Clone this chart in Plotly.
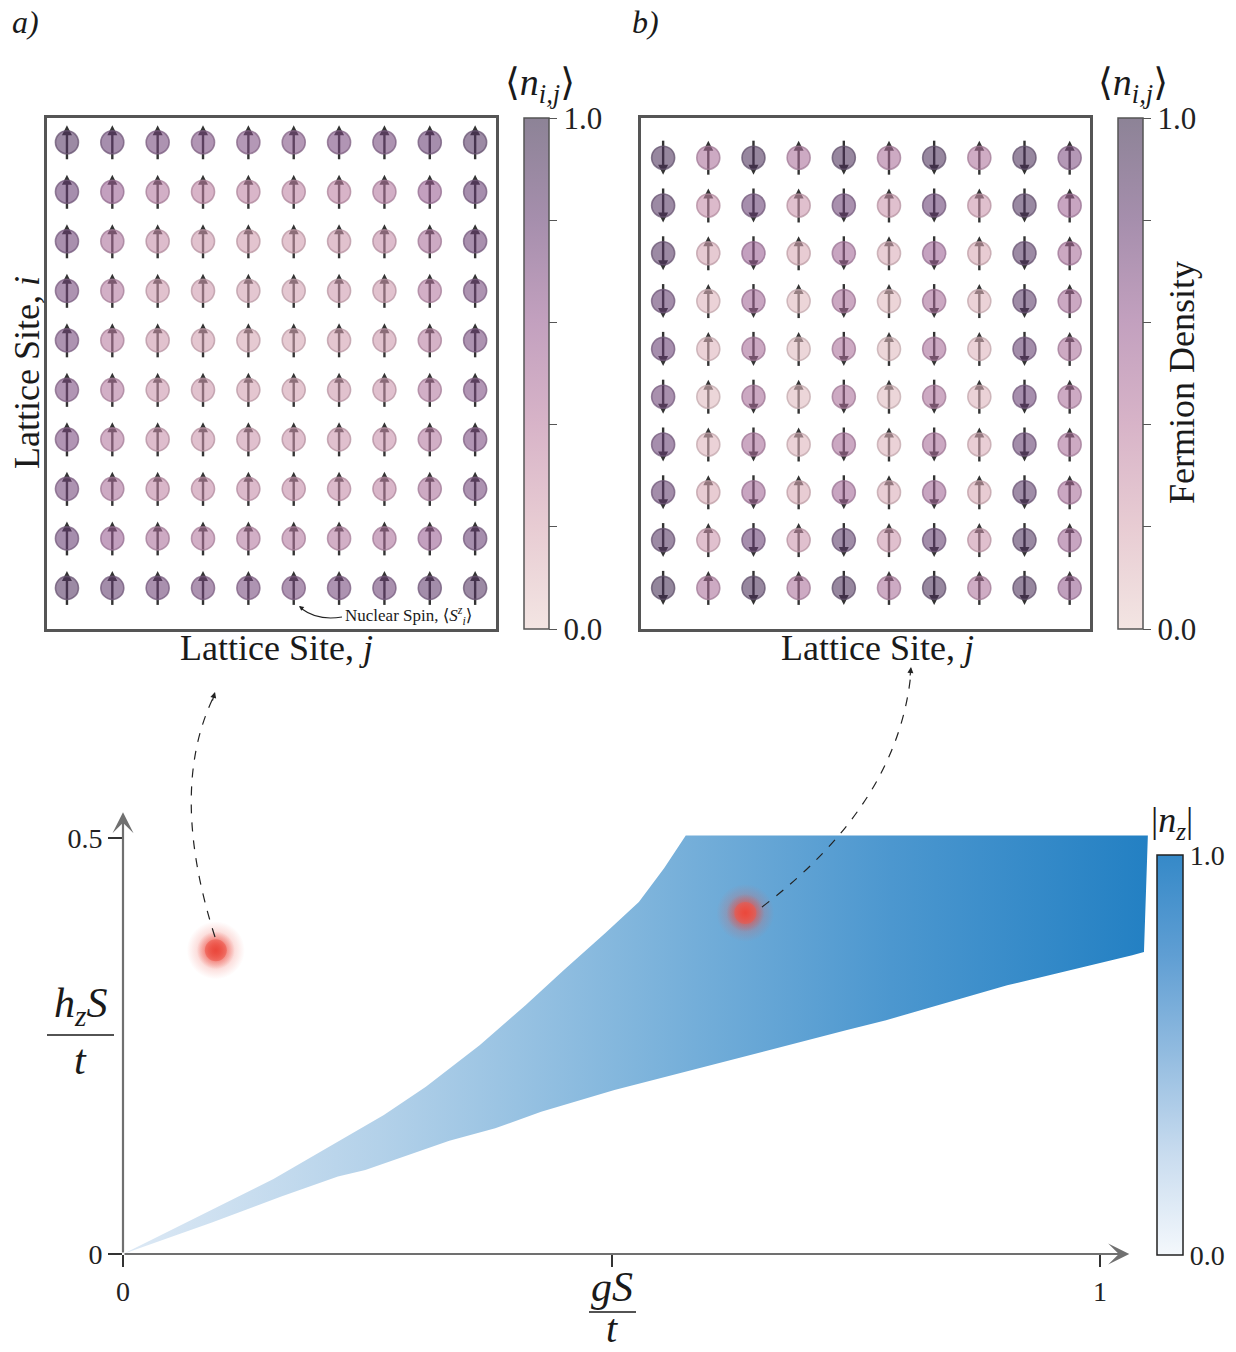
import plotly.graph_objects as go

W, H = 1236, 1352
FONT = "Liberation Serif, DejaVu Serif, serif"

# ---------------- data ----------------
lattice_j = list(range(10))

# panel a) fermion density <n_ij>, rows listed top -> bottom
density_a = [
    [0.88, 0.80, 0.75, 0.72, 0.70, 0.70, 0.72, 0.75, 0.80, 0.88],
    [0.80, 0.60, 0.45, 0.40, 0.38, 0.38, 0.40, 0.45, 0.60, 0.80],
    [0.78, 0.50, 0.33, 0.28, 0.26, 0.26, 0.28, 0.33, 0.50, 0.78],
    [0.75, 0.45, 0.28, 0.27, 0.24, 0.24, 0.27, 0.28, 0.45, 0.75],
    [0.75, 0.42, 0.28, 0.25, 0.22, 0.22, 0.25, 0.28, 0.42, 0.75],
    [0.72, 0.45, 0.30, 0.28, 0.25, 0.25, 0.28, 0.30, 0.45, 0.72],
    [0.72, 0.45, 0.32, 0.30, 0.30, 0.30, 0.30, 0.32, 0.45, 0.72],
    [0.75, 0.50, 0.38, 0.35, 0.35, 0.35, 0.35, 0.38, 0.50, 0.75],
    [0.80, 0.60, 0.50, 0.45, 0.45, 0.45, 0.45, 0.50, 0.60, 0.80],
    [0.88, 0.82, 0.78, 0.75, 0.74, 0.74, 0.75, 0.78, 0.82, 0.88],
]
spin_a_row = [1, 1, 1, 1, 1, 1, 1, 1, 1, 1]
spin_a = [spin_a_row] * 10

# panel b)
density_b = [
    [0.92, 0.50, 0.92, 0.50, 0.92, 0.50, 0.92, 0.48, 0.92, 0.70],
    [0.88, 0.35, 0.80, 0.30, 0.78, 0.30, 0.80, 0.30, 0.90, 0.55],
    [0.88, 0.22, 0.60, 0.20, 0.55, 0.18, 0.58, 0.20, 0.88, 0.52],
    [0.82, 0.15, 0.55, 0.13, 0.52, 0.13, 0.52, 0.15, 0.85, 0.52],
    [0.80, 0.15, 0.52, 0.12, 0.50, 0.12, 0.52, 0.15, 0.82, 0.50],
    [0.78, 0.12, 0.52, 0.12, 0.50, 0.12, 0.50, 0.15, 0.80, 0.50],
    [0.80, 0.15, 0.52, 0.15, 0.52, 0.15, 0.52, 0.18, 0.82, 0.50],
    [0.82, 0.20, 0.55, 0.20, 0.55, 0.18, 0.55, 0.20, 0.85, 0.52],
    [0.88, 0.30, 0.80, 0.30, 0.85, 0.30, 0.82, 0.30, 0.90, 0.55],
    [0.95, 0.50, 0.92, 0.50, 0.92, 0.50, 0.92, 0.48, 0.92, 0.62],
]
spin_b_row = [-1, 1, -1, 1, -1, 1, -1, 1, -1, 1]
spin_b = [spin_b_row] * 10

# phase diagram boundary (gS/t, h_z S/t)
upper_x = [0.0, 0.115, 0.154, 0.267, 0.310, 0.365, 0.412, 0.451, 0.494, 0.528, 0.554, 0.576, 1.049]
upper_y = [0.0, 0.067, 0.090, 0.167, 0.201, 0.251, 0.299, 0.341, 0.386, 0.423, 0.464, 0.503, 0.503]
lower_x = [1.045, 1.033, 0.905, 0.781, 0.740, 0.576, 0.503, 0.428, 0.381, 0.334, 0.248, 0.220, 0.162, 0.091, 0.0]
lower_y = [0.363, 0.359, 0.323, 0.281, 0.269, 0.219, 0.197, 0.171, 0.151, 0.136, 0.101, 0.093, 0.069, 0.038, 0.0]

marker_gS = [0.095, 0.637]
marker_hz = [0.365, 0.410]

x_ticks = [0, 0.5, 1]
x_ticktext = ["0", "", "1"]
y_ticks = [0, 0.5]
y_ticktext = ["0", "0.5"]
cb_ticks = [0.0, 0.2, 0.4, 0.6, 0.8, 1.0]
cb_ticktext = ["0.0", "", "", "", "", "1.0"]

# ---------------- styling helpers ----------------
ALPHA = 0.58
targets = [(0.0, (243, 229, 227)), (0.2, (232, 204, 211)), (0.4, (216, 180, 200)),
           (0.6, (195, 161, 191)), (0.8, (166, 143, 173)), (1.0, (141, 131, 151))]


def rgba_for(target, a, dark=1.0):
    s = [max(0, min(255, ((c - (1 - a) * 255) / a) * dark)) for c in target]
    return "rgba(%d,%d,%d,%.2f)" % (s[0], s[1], s[2], a)


fill_scale = [[v, rgba_for(t, ALPHA)] for v, t in targets]
edge_scale = [[v, rgba_for(t, 0.75, 0.85)] for v, t in targets]

nz_scale = [[0, "#f4f8fc"], [0.25, "#c9dcef"], [0.5, "#93bce0"], [0.75, "#5f9ed3"], [1, "#3589c8"]]
fill_blues = [[0, "#dde9f5"], [0.25, "#b3d1e9"], [0.5, "#80b5dc"], [0.75, "#4c97cf"], [1, "#2380c3"]]


def px(x):
    return x / W


def py(y):
    return 1 - y / H


# panel geometry (pixels)
BOX_T, BOX_B = 118, 629
A_L, A_R = 47, 496
B_L, B_R = 641, 1090
A_XR, A_YR = [-0.44, 9.46], [-0.83, 9.49]
B_XR, B_YR = [-0.49, 9.45], [-0.86, 9.83]

fig = go.Figure()


def add_panel(density, spins, xref, yref, yr, cb_x):
    n = len(density)
    xs, ys, vs, ss = [], [], [], []
    for r, row in enumerate(density):
        for c, v in enumerate(row):
            xs.append(lattice_j[c])
            ys.append(n - 1 - r)
            vs.append(v)
            ss.append(spins[r][c])
    unit = (BOX_B - BOX_T) / (yr[1] - yr[0])
    half = 17 / unit
    back = 5 / unit
    sx, sy, hx, hy, hs = [], [], [], [], []
    for x, y, s in zip(xs, ys, ss):
        sx += [x, x, None]
        sy += [y - s * half, y + s * half - s * back, None]
        hx.append(x)
        hy.append(y + s * half)
        hs.append("arrow-up" if s > 0 else "arrow-down")
    fig.add_trace(go.Scatter(x=sx, y=sy, mode="lines", line=dict(color="#333333", width=2.4),
                             xaxis=xref, yaxis=yref, hoverinfo="skip", showlegend=False))
    fig.add_trace(go.Scatter(x=hx, y=hy, mode="markers",
                             marker=dict(symbol=hs, size=10, color="#333333", line=dict(width=0)),
                             xaxis=xref, yaxis=yref, hoverinfo="skip", showlegend=False))
    cb = dict(x=px(cb_x), xanchor="left", xref="paper", y=py((BOX_T + BOX_B) / 2), yanchor="middle",
              yref="paper", len=BOX_B - BOX_T, lenmode="pixels", thickness=25, thicknessmode="pixels",
              xpad=0, ypad=0, outlinewidth=1.5, outlinecolor="#555555",
              tickmode="array", tickvals=cb_ticks, ticktext=cb_ticktext, ticks="outside",
              ticklen=8, tickwidth=1.3, tickcolor="#555555",
              tickfont=dict(family=FONT, size=31, color="#222222"))
    fig.add_trace(go.Scatter(x=xs, y=ys, mode="markers",
                             marker=dict(size=23, color=vs, colorscale=fill_scale, cmin=0, cmax=1,
                                         line=dict(width=1.6, color=vs, colorscale=edge_scale, cmin=0, cmax=1),
                                         showscale=True, colorbar=cb),
                             xaxis=xref, yaxis=yref, hoverinfo="skip", showlegend=False))


add_panel(density_a, spin_a, "x", "y", A_YR, 524)
add_panel(density_b, spin_b, "x2", "y2", B_YR, 1118)

# phase region
fig.add_trace(go.Scatter(x=upper_x + lower_x, y=upper_y + lower_y, fill="toself", mode="lines",
                         line=dict(width=0, color="rgba(0,0,0,0)"),
                         fillgradient=dict(type="horizontal", colorscale=fill_blues),
                         xaxis="x3", yaxis="y3", hoverinfo="skip", showlegend=False))

# |n_z| colorbar (dummy trace)
fig.add_trace(go.Scatter(x=[0.5], y=[0.25], mode="markers",
                         marker=dict(size=1, opacity=0, color=[0.5], colorscale=nz_scale, cmin=0, cmax=1,
                                     showscale=True,
                                     colorbar=dict(x=px(1157), xanchor="left", xref="paper",
                                                   y=py(1055), yanchor="middle", yref="paper",
                                                   len=400, lenmode="pixels", thickness=26,
                                                   thicknessmode="pixels", xpad=0, ypad=0,
                                                   outlinewidth=1.5, outlinecolor="#222222",
                                                   tickmode="array", tickvals=[0, 1], ticktext=["0.0", "1.0"],
                                                   ticks="", tickfont=dict(family=FONT, size=28, color="#222222"))),
                         xaxis="x3", yaxis="y3", hoverinfo="skip", showlegend=False))

# red markers (blurred glow): radial gradient, gradient.color is the centre colour
fig.add_trace(go.Scatter(x=marker_gS, y=marker_hz, mode="markers",
                         marker=dict(size=58, color="rgba(240,90,80,0)", line=dict(width=0),
                                     gradient=dict(type="radial", color="rgba(236,72,60,0.55)")),
                         xaxis="x3", yaxis="y3", hoverinfo="skip", showlegend=False))
fig.add_trace(go.Scatter(x=marker_gS, y=marker_hz, mode="markers",
                         marker=dict(size=38, color="rgba(236,76,64,0)", line=dict(width=0),
                                     gradient=dict(type="radial", color="rgba(236,76,64,1)")),
                         xaxis="x3", yaxis="y3", hoverinfo="skip", showlegend=False))
fig.add_trace(go.Scatter(x=marker_gS, y=marker_hz, mode="markers",
                         marker=dict(size=22, color="rgba(238,88,76,0.55)", line=dict(width=0),
                                     gradient=dict(type="radial", color="rgba(234,72,60,1)")),
                         xaxis="x3", yaxis="y3", hoverinfo="skip", showlegend=False))

# ---------------- axes ----------------
box_axis = dict(showticklabels=False, ticks="", showline=True, mirror=True, linecolor="#555555",
                linewidth=2.5, showgrid=False, zeroline=False, fixedrange=True)
X3_RANGE = [0, 1.06]
Y3_RANGE = [0, 0.56]
X0, XU = 123, 977
Y0, YU = 1254, 832

fig.update_layout(
    width=W, height=H, margin=dict(l=0, r=0, t=0, b=0, autoexpand=False),
    paper_bgcolor="white", plot_bgcolor="rgba(0,0,0,0)", showlegend=False,
    font=dict(family=FONT, color="#222222"),
    xaxis=dict(domain=[px(A_L), px(A_R)], range=A_XR, anchor="y", **box_axis),
    yaxis=dict(domain=[py(BOX_B), py(BOX_T)], range=A_YR, anchor="x", **box_axis),
    xaxis2=dict(domain=[px(B_L), px(B_R)], range=B_XR, anchor="y2", **box_axis),
    yaxis2=dict(domain=[py(BOX_B), py(BOX_T)], range=B_YR, anchor="x2", **box_axis),
    xaxis3=dict(domain=[px(X0), px(X0 + XU * X3_RANGE[1])], range=X3_RANGE, anchor="y3",
                tickmode="array", tickvals=x_ticks, ticktext=x_ticktext, ticks="outside", ticklen=12,
                tickwidth=2, tickcolor="#333333", showline=False, showgrid=False, zeroline=False,
                tickfont=dict(family=FONT, size=28, color="#222222"), automargin=False),
    yaxis3=dict(domain=[py(Y0), py(Y0 - YU * Y3_RANGE[1])], range=Y3_RANGE, anchor="x3",
                tickmode="array", tickvals=y_ticks, ticktext=y_ticktext, ticks="outside", ticklen=14,
                tickwidth=2, tickcolor="#333333", showline=False, showgrid=False, zeroline=False,
                tickfont=dict(family=FONT, size=28, color="#222222"), automargin=False),
)

ann = []
shapes = []


def text(x, y, s, size, angle=0, xanchor="center", yanchor="middle"):
    ann.append(dict(x=px(x), y=py(y), xref="paper", yref="paper", text=s, showarrow=False,
                    font=dict(family=FONT, size=size, color="#1a1a1a"), textangle=angle,
                    xanchor=xanchor, yanchor=yanchor))


text(25, 22, "<i>a)</i>", 32)
text(646, 22, "<i>b)</i>", 32)
text(540, 85, "⟨<i>n</i><sub><i>i,j</i></sub>⟩", 38)
text(1133, 85, "⟨<i>n</i><sub><i>i,j</i></sub>⟩", 38)
text(276, 648, "Lattice Site, <i>j</i>", 36)
text(877, 648, "Lattice Site, <i>j</i>", 36)
text(27, 373, "Lattice Site, <i>i</i>", 36, angle=-90)
text(1182, 383, "Fermion Density", 36, angle=-90)
text(1172, 822, "|<i>n</i><sub><i>z</i></sub>|", 36)
text(343, 615, "Nuclear Spin, ⟨<i>S</i><sup><i>z</i></sup><sub><i>i</i></sub>⟩", 17, xanchor="left")

# fractions
text(80, 1006, "<i>h</i><sub><i>z</i></sub><i>S</i>", 42)
text(80, 1060, "<i>t</i>", 42)
shapes.append(dict(type="line", xref="paper", yref="paper", x0=px(47), x1=px(114), y0=py(1035), y1=py(1035),
                   line=dict(color="#1a1a1a", width=1.5)))
text(612, 1287, "<i>gS</i>", 42)
text(612, 1328, "<i>t</i>", 40)
shapes.append(dict(type="line", xref="paper", yref="paper", x0=px(589), x1=px(636), y0=py(1312), y1=py(1312),
                   line=dict(color="#1a1a1a", width=1.5)))

# axis arrows
ann.append(dict(x=1.03, y=0, xref="x3", yref="y3", ax=0, ay=0, axref="x3", ayref="y3", text="",
                showarrow=True, arrowhead=3, arrowsize=1.6, arrowwidth=2.2, arrowcolor="#707070"))
ann.append(dict(x=0, y=0.531, xref="x3", yref="y3", ax=0, ay=0, axref="x3", ayref="y3", text="",
                showarrow=True, arrowhead=3, arrowsize=1.6, arrowwidth=2.2, arrowcolor="#707070"))


def curve(p0, c, p1, dash="dash", width=1.2):
    shapes.append(dict(type="path", xref="paper", yref="paper",
                       path="M %.5f,%.5f Q %.5f,%.5f %.5f,%.5f" % (px(p0[0]), py(p0[1]), px(c[0]), py(c[1]),
                                                                   px(p1[0]), py(p1[1])),
                       line=dict(color="#222222", width=width, dash=dash)))


def head(tip, ax, ay, size=1.0):
    ann.append(dict(x=px(tip[0]), y=py(tip[1]), xref="paper", yref="paper", ax=ax, ay=ay, text="",
                    showarrow=True, arrowhead=2, arrowsize=size, arrowwidth=1.2, arrowcolor="#222222"))


curve((215, 937), (168, 790), (214, 696))
head((215, 692), -3, 10)
curve((762, 907), (899, 803), (911, 672))
head((911, 667), -1, 10)
curve((342, 617), (318, 621), (302, 609), dash="solid", width=1.1)
head((299, 606), 5, 4, 0.8)

fig.update_layout(annotations=ann, shapes=shapes)

fig.write_html("out.html", config={"displayModeBar": False},
               post_script="document.body.style.margin='0px';document.body.style.padding='0px';")
